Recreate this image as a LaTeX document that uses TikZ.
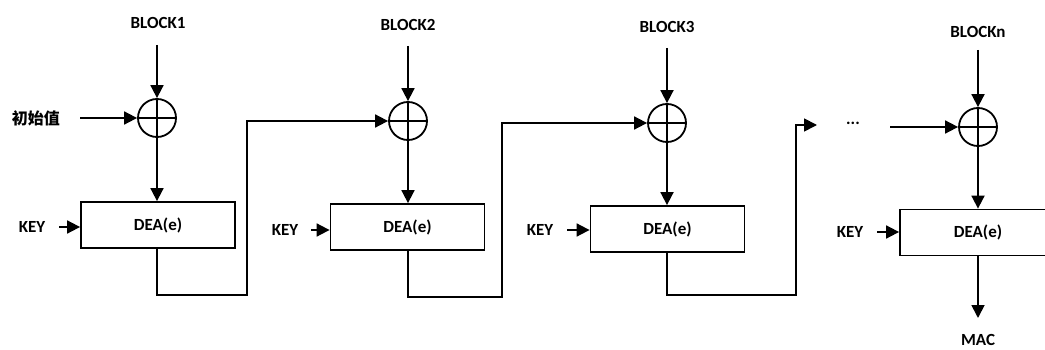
\documentclass[tikz,border=0pt]{standalone}
\usepackage{fontspec}
\setmainfont{Carlito}
\newfontfamily\cjk{Noto Sans CJK SC}
\usetikzlibrary{arrows.meta}
\begin{document}
\begin{tikzpicture}[x=1pt,y=-1pt,
  every node/.style={font=\fontsize{17}{19}\selectfont\bfseries},
  line/.style={line width=1.8pt},
  arr/.style={line width=1.8pt,-{Triangle[length=13pt,width=13pt]}},
  dea/.style={draw,line width=1.8pt,minimum width=154pt,minimum height=46pt,inner sep=0pt},
  xorc/.style={draw,circle,line width=1.8pt,minimum size=38pt,inner sep=0pt,
    path picture={\draw[line width=1.8pt] (path picture bounding box.north) -- (path picture bounding box.south)
      (path picture bounding box.west) -- (path picture bounding box.east);}},
  lbl/.style={inner sep=1pt}]
\useasboundingbox (0,0) rectangle (1045,350);
\clip (0,0) rectangle (1045,350);
% labels
\node[lbl] (b1) at (158,23) {BLOCK1};
\node[lbl] (b2) at (408,25) {BLOCK2};
\node[lbl] (b3) at (667,27) {BLOCK3};
\node[lbl] (bn) at (978,32) {BLOCKn};
\coordinate (s1) at (157,45);
\coordinate (s2) at (408,46);
\coordinate (s3) at (667,48);
\coordinate (sn) at (978,50);
% xor
\node[xorc] (x1) at (157,118) {};
\node[xorc] (x2) at (408,121) {};
\node[xorc] (x3) at (667,123) {};
\node[xorc] (xn) at (978,127) {};
% boxes
\node[dea] (d1) at (158,225) {DEA(e)};
\node[dea] (d2) at (407.5,227) {DEA(e)};
\node[dea] (d3) at (667.5,229) {DEA(e)};
\node[dea,minimum width=180pt] (dn) at (990,232.5) {};
\node[lbl] (dnt) at (978,232.5) {DEA(e)};
% keys
\node[lbl] (k1) at (32,227) {KEY};
\node[lbl] (k2) at (285,230) {KEY};
\node[lbl] (k3) at (540,230) {KEY};
\node[lbl] (kn) at (850,232) {KEY};
\coordinate (k1e) at (59,227);
\coordinate (k2e) at (311,230);
\coordinate (k3e) at (567,230);
\coordinate (kne) at (877,232);
% initial value
\node[lbl,font=\cjk\fontsize{16}{18}\selectfont\bfseries] (iv) at (36,118) {初始值};
\coordinate (ive) at (80,118);
% ellipsis
\node[lbl] (dots) at (853,123) {...};
\coordinate (dotsout) at (890,127);
\coordinate (mac1) at (978,318);
\node[lbl] (mac) at (978,340) {MAC};
% arrows in
\draw[arr] (s1) -- (x1.north);
\draw[arr] (s2) -- (x2.north);
\draw[arr] (s3) -- (x3.north);
\draw[arr] (sn) -- (xn.north);
\draw[arr] (x1.south) -- (d1.north -| x1);
\draw[arr] (x2.south) -- (d2.north -| x2);
\draw[arr] (x3.south) -- (d3.north -| x3);
\draw[arr] (xn.south) -- (dn.north -| xn);
\draw[arr] (k1e) -- (d1.west |- k1e);
\draw[arr] (k2e) -- (d2.west |- k2e);
\draw[arr] (k3e) -- (d3.west |- k3e);
\draw[arr] (kne) -- (dn.west |- kne);
\draw[arr] (ive) -- (x1.west);
% chaining
\draw[arr] (d1.south -| x1) |- (247,295) |- (x2.west);
\draw[arr] (d2.south -| x2) |- (502,297) |- (x3.west);
\coordinate (c3) at (817,125);
\draw[arr] (d3.south -| x3) |- (796,295) |- (c3);
\draw[arr] (dotsout) -- (xn.west);
\draw[arr] (dn.south -| xn) -- (mac1);
\end{tikzpicture}
\end{document}
